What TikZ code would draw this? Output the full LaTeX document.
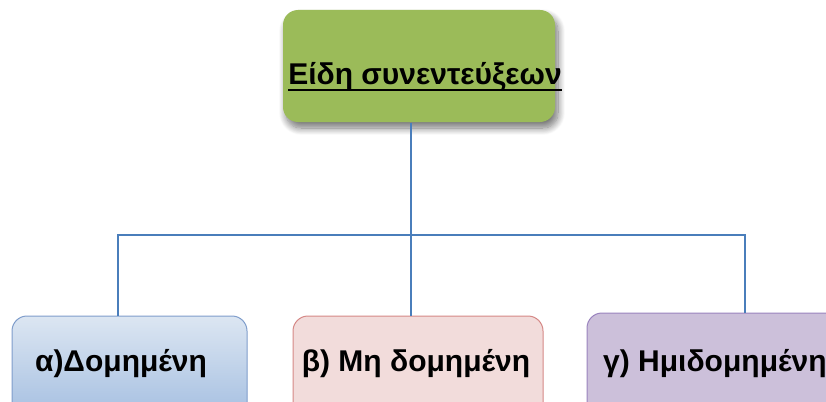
\documentclass[tikz,border=0pt]{standalone}
\usepackage{fontspec}
\setmainfont{Liberation Sans}
\usetikzlibrary{shadows.blur}

\definecolor{rootgreen}{HTML}{9BBB59}
\definecolor{linkblue}{HTML}{4A7EBB}
\definecolor{blueTop}{HTML}{DCE6F2}
\definecolor{blueBot}{HTML}{9BB8DE}
\definecolor{blueEdge}{HTML}{7F9DCB}
\definecolor{pinkFill}{HTML}{F2DCDB}
\definecolor{pinkEdge}{HTML}{D58886}
\definecolor{lilacFill}{HTML}{CCC0DA}
\definecolor{lilacEdge}{HTML}{9A83BE}

\tikzset{
  box/.style={rectangle, rounded corners=15pt, inner sep=0pt, line width=1pt},
  rootbox/.style={box, draw=none, fill=rootgreen,
    blur shadow={shadow xshift=3pt, shadow yshift=-6pt, shadow blur radius=7pt,
                 shadow blur steps=12, shadow opacity=55}},
  leafbox/.style={box, minimum height=120pt},
  boxtext/.style={inner sep=0pt, anchor=base, font=\bfseries\fontsize{30}{33}\selectfont},
  link/.style={draw=linkblue, line width=1.4pt}
}

\begin{document}
\begin{tikzpicture}[x=1pt, y=-1pt]
  \useasboundingbox (0,0) rectangle (826,401);
  \clip (0,0) rectangle (826,401);

  % root of the tree
  \node[rootbox, minimum width=272pt, minimum height=112pt] (root) at (419,66) {};
  \node[boxtext] (title) at (425,85) {Είδη συνεντεύξεων};
  \draw[line width=2.2pt] ([yshift=-5pt]title.base west) -- ([yshift=-5pt]title.base east);

  % the three kinds
  \node[leafbox, draw=blueEdge, top color=blueTop, bottom color=blueBot, minimum width=235pt] (kindA) at (129.5,376) {};
  \node[leafbox, draw=pinkEdge, fill=pinkFill, minimum width=250pt] (kindB) at (418,376) {};
  \node[leafbox, draw=lilacEdge, fill=lilacFill, minimum width=270pt] (kindC) at (722,373) {};

  \node[boxtext] (textA) at (121,371) {α)Δομημένη};
  \node[boxtext] (textB) at (416,371) {β) Μη δομημένη};
  \node[boxtext, anchor=base west] (textC) at (603,371) {γ) Ημιδομημένη};

  % connectors
  \coordinate (hub) at (411,235);
  \coordinate (busL) at (118,235);
  \coordinate (busR) at (745,235);
  \draw[link] (hub |- root.south) -- (hub |- kindB.north);
  \draw[link] (busL |- kindA.north) -- (busL) -- (busR) -- (busR |- kindC.north);
\end{tikzpicture}
\end{document}
